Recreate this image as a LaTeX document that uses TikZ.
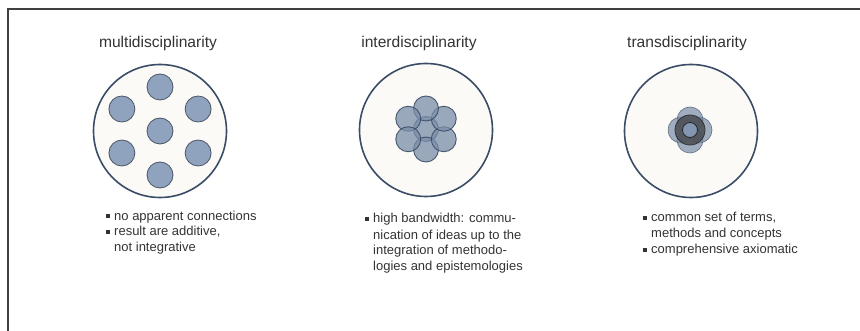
\documentclass[tikz,border=0pt]{standalone}
\usepackage{fontspec}
\setmainfont{Liberation Sans}
\definecolor{ink}{HTML}{333333}
\definecolor{ring}{HTML}{3A4C66}
\definecolor{paper}{HTML}{FBFAF7}
\definecolor{dotfill}{HTML}{8FA3BE}
\definecolor{dotline}{HTML}{4A5566}
\definecolor{core}{HTML}{4E5258}
\newcommand{\blt}{\raisebox{2.2pt}{\rule{3.6pt}{3.6pt}}\hspace{4.4pt}}
\newcommand{\hang}{\hspace{8pt}}
\tikzset{
  title/.style={text=ink, font=\fontsize{15.6}{18}\selectfont, inner sep=0pt},
  notes/.style={text=ink, font=\fontsize{13}{16}\selectfont, align=left, anchor=base west, inner sep=0pt},
  disc/.style={circle, draw=ring, line width=1.6pt, fill=paper, minimum size=133pt, inner sep=0pt},
  dot/.style={circle, draw=dotline, line width=0.8pt, fill=dotfill, minimum size=26pt, inner sep=0pt},
  blob/.style={circle, draw=ring, draw opacity=0.9, line width=0.9pt, fill=dotfill!75!ring, fill opacity=0.75, minimum size=25pt, inner sep=0pt},
  lobe/.style={circle, draw=ring!80, line width=0.6pt, fill=dotfill!75!ring, fill opacity=0.7, minimum size=26pt, inner sep=0pt}
}
\begin{document}
\begin{tikzpicture}[x=1pt, y=-1pt]
\useasboundingbox (0,0) rectangle (860,331);
\draw[line width=1.8pt, color=black!75] (860,9) -- (8,9) -- (8,331);

% headings
\node[title] (multi) at (158,43) {multidisciplinarity};
\node[title] (inter) at (419,43) {interdisciplinarity};
\node[title] (trans) at (687,43) {transdisciplinarity};

% multi: separate disciplines
\node[disc] (mdisc) at (160,131) {};
\node[dot] (m0) at (160,131) {};
\foreach \a [count=\i] in {90,30,-30,-90,-150,150}
  \node[dot] (m\i) at ([shift={(\a:44)}]mdisc.center) {};

% inter: overlapping disciplines
\node[disc] (idisc) at (426,130) {};
\node[blob] (i0) at (426,129) {};
\foreach \a [count=\i] in {90,30,-30,-90,-150,150}
  \node[blob] (i\i) at ([shift={(\a:20.5)}]i0.center) {};

% trans: merged core
\node[disc] (tdisc) at (691,131) {};
\foreach \p [count=\i] in {(-9,0),(9,0),(0,-10),(0,10)}
  \node[lobe] (t\i) at ([shift={\p}]690,130) {};
\node[circle, draw=black!80, line width=0.8pt, fill=core, fill opacity=0.9, minimum size=30pt, inner sep=0pt] (tcore) at (690,130) {};
\node[circle, draw=black!85, line width=0.8pt, fill=dotfill!85!ring, minimum size=15pt, inner sep=0pt] (tseed) at (690,130) {};

% bullet notes (anchored on the last baseline)
\node[notes] (mnotes) at (106,252) {\blt no apparent connections\\
  \blt result are additive,\\
  \hang not integrative};
\node[notes] (inotes) at (365,271) {\blt high bandwidth: commu-\\
  \hang nication of ideas up to the\\
  \hang integration of methodo-\\
  \hang logies and epistemologies};
\node[notes] (tnotes) at (643,254) {\blt common set of terms,\\
  \hang methods and concepts\\
  \blt comprehensive axiomatic};
\end{tikzpicture}
\end{document}
